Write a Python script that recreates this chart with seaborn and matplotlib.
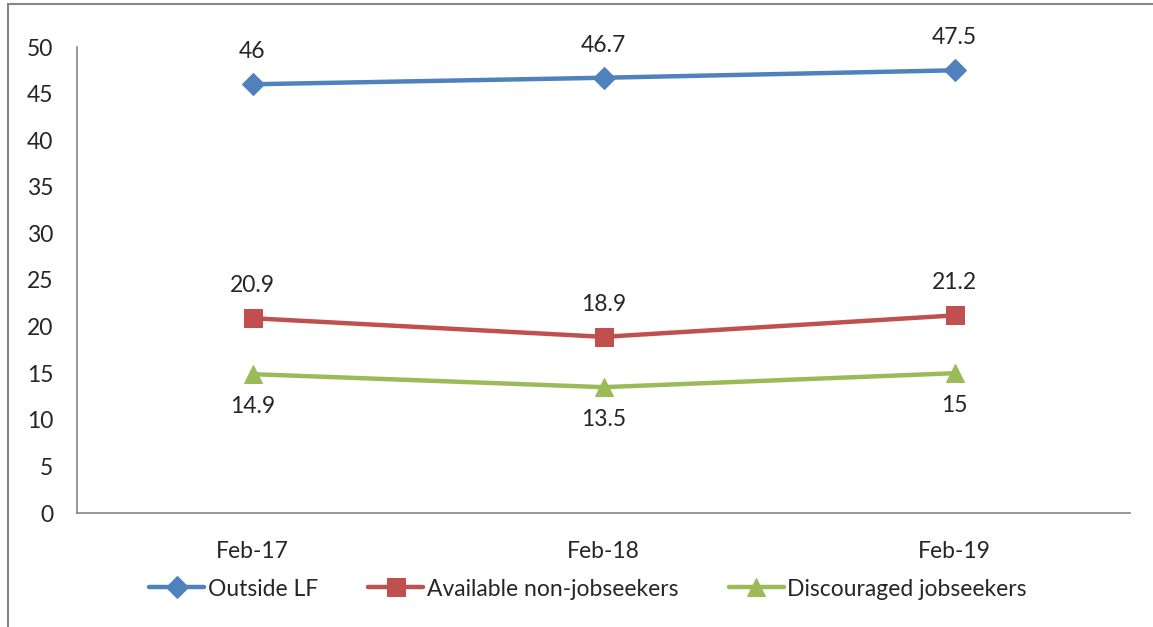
import numpy as np
import pandas as pd
import seaborn as sns
import matplotlib.pyplot as plt
from matplotlib.patches import Rectangle

# chart data
periods = ["Feb-17", "Feb-18", "Feb-19"]
outside_lf = [46, 46.7, 47.5]
available_non = [20.9, 18.9, 21.2]
discouraged = [14.9, 13.5, 15]
series_names = ["Outside LF", "Available non-jobseekers", "Discouraged jobseekers"]

colors = ["#4F81BD", "#C0504D", "#9BBB59"]
markers = ["D", "s", "^"]
msizes = [11, 13, 13]

df = pd.DataFrame({
    "period": periods * 3,
    "x": list(range(3)) * 3,
    "value": outside_lf + available_non + discouraged,
    "series": [s for s in series_names for _ in periods],
})

sns.set_style("white")
plt.rcParams['font.family'] = ['Lato', 'DejaVu Sans']
FS = 16.5

fig = plt.figure(figsize=(11.53, 6.27), dpi=100)
ax = fig.add_axes([77 / 1153, 1 - 513 / 627, (1130 - 77) / 1153, (513 - 47) / 627])

for i, name in enumerate(series_names):
    sub = df[df.series == name]
    sns.lineplot(data=sub, x="x", y="value", ax=ax, color=colors[i], linewidth=3.2,
                 marker=markers[i], markersize=msizes[i], markeredgecolor=colors[i],
                 label=name)

# data labels
for x, v in zip(range(3), outside_lf):
    ax.annotate(f"{v:g}", (x, v), xytext=(0, 16), textcoords="offset points",
                ha="center", va="bottom", fontsize=FS)
for x, v in zip(range(3), available_non):
    ax.annotate(f"{v:g}", (x, v), xytext=(0, 16), textcoords="offset points",
                ha="center", va="bottom", fontsize=FS)
for x, v in zip(range(3), discouraged):
    ax.annotate(f"{v:g}", (x, v), xytext=(0, -16), textcoords="offset points",
                ha="center", va="top", fontsize=FS)

ax.set_xlim(-0.5, 2.5)
ax.set_ylim(0, 50)
ax.set_yticks(np.arange(0, 51, 5))
ax.set_xticks(range(3))
ax.set_xticklabels(periods)
ax.set_xticks([-0.5, 0.5, 1.5, 2.5], minor=True)
ax.tick_params(axis="x", which="major", length=0, pad=20, labelsize=FS)
ax.tick_params(axis="x", which="minor", length=7, color="#868686", width=1.2, direction="out")
ax.tick_params(axis="y", length=7, color="#868686", width=1.2, direction="out", labelsize=FS, pad=10)
ax.set_xlabel("")
ax.set_ylabel("")
for s in ["top", "right"]:
    ax.spines[s].set_visible(False)
for s in ["left", "bottom"]:
    ax.spines[s].set_color("#868686")
    ax.spines[s].set_linewidth(1.2)

ax.legend(loc="center", bbox_to_anchor=(588 / 1153, 1 - 589 / 627), bbox_transform=fig.transFigure,
          ncol=3, frameon=False, fontsize=FS, handlelength=2.4, handletextpad=0.15,
          columnspacing=2.2)

# outer frame of the chart area
fig.patches.append(Rectangle((8 / 1153, -0.2), 1.2, 1.2 - 4 / 627, transform=fig.transFigure,
                             fill=False, edgecolor="#868686", linewidth=1.5))

fig.savefig("out.png", dpi=100)
